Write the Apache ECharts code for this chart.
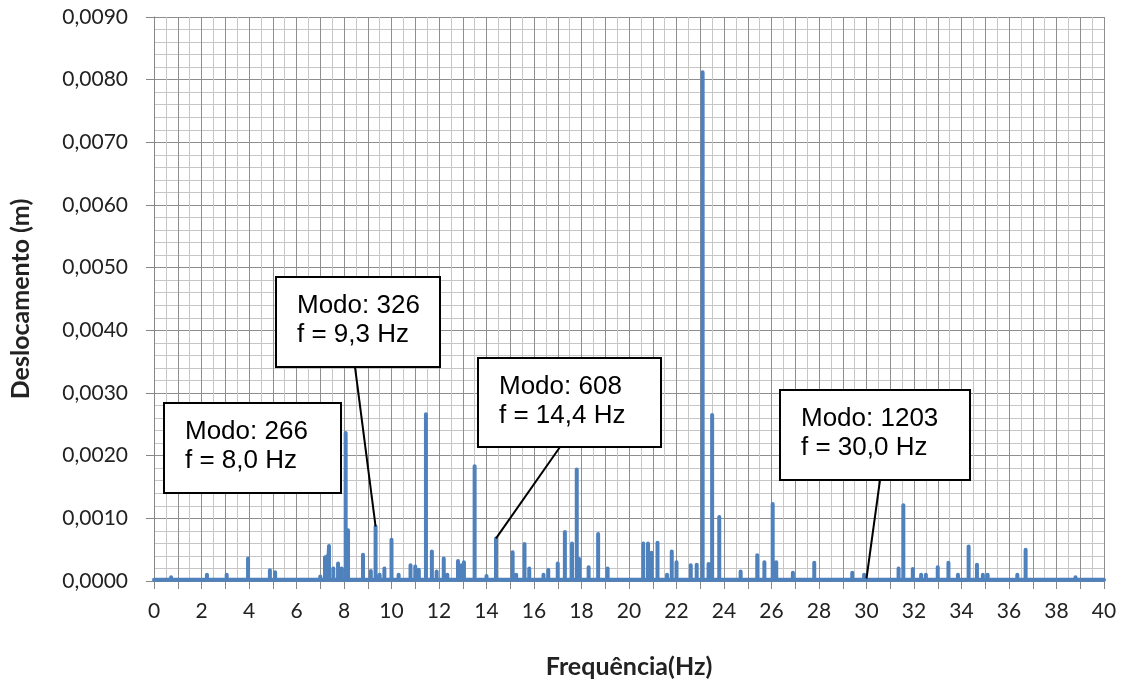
<!DOCTYPE html>
<html>
<head>
<meta charset="utf-8">
<script src="https://cdn.jsdelivr.net/npm/echarts/dist/echarts.min.js"></script>
<style>
  html, body { margin: 0; padding: 0; background: #fff; }
  #chart { width: 1124px; height: 684px; }
</style>
</head>
<body>
<div id="chart"></div>
<script>
// Spectrum peaks: frequency (Hz) and displacement amplitude (m)
const peakFreq = [
  0.72, 1.65, 2.0, 2.23, 3.06, 3.96, 4.25, 4.88, 5.1, 6.0,
  7.0, 7.2, 7.3, 7.37, 7.55, 7.75, 7.9, 8.07, 8.17, 8.4,
  8.8, 9.13, 9.33, 9.5, 9.7, 10.0, 10.3, 10.5, 10.8, 11.0,
  11.15, 11.45, 11.7, 11.9, 12.2, 12.35, 12.8, 12.95, 13.05, 13.5,
  14.0, 14.4, 15.1, 15.25, 15.6, 15.8, 16.4, 16.6, 17.0, 17.3,
  17.6, 17.8, 17.9, 18.3, 18.7, 19.1, 20.15, 20.6, 20.8, 20.95,
  21.2, 21.6, 21.8, 22.0, 22.6, 22.85, 23.1, 23.35, 23.5, 23.8,
  24.7, 25.4, 25.7, 26.05, 26.2, 26.9, 27.8, 29.4, 29.9, 30.7,
  31.35, 31.55, 31.95, 32.3, 32.5, 33.0, 33.45, 33.85, 34.3, 34.65,
  34.9, 35.1, 35.9, 36.35, 36.7, 38.8, 39.8
];
const peakDisp = [
  0.00006, 0.00005, 0.00005, 0.00010, 0.00010, 0.00036, 0.00004, 0.00017, 0.00014, 0.00005,
  0.00007, 0.00038, 0.00040, 0.00056, 0.00020, 0.00028, 0.00020, 0.00236, 0.00081, 0.00005,
  0.00042, 0.00016, 0.00087, 0.00010, 0.00020, 0.00066, 0.00010, 0.00005, 0.00025, 0.00023,
  0.00018, 0.00266, 0.00047, 0.00015, 0.00036, 0.00010, 0.00032, 0.00025, 0.00030, 0.00183,
  0.00008, 0.00068, 0.00046, 0.00010, 0.00059, 0.00020, 0.00010, 0.00018, 0.00028, 0.00078,
  0.00060, 0.00178, 0.00035, 0.00022, 0.00075, 0.00020, 0.00005, 0.00060, 0.00060, 0.00045,
  0.00061, 0.00010, 0.00047, 0.00030, 0.00025, 0.00026, 0.00812, 0.00027, 0.00265, 0.00102,
  0.00015, 0.00041, 0.00030, 0.00123, 0.00030, 0.00013, 0.00029, 0.00013, 0.00010, 0.00005,
  0.00020, 0.00121, 0.00019, 0.00010, 0.00010, 0.00022, 0.00029, 0.00010, 0.00055, 0.00026,
  0.00010, 0.00010, 0.00005, 0.00010, 0.00050, 0.00006, 0.00004
];
// Noise floor of the spectrum (m)
const floorDisp = 0.00002;

// Frequency range (Hz)
const freqMin = 0;
const freqMax = 40;

// Annotated modes
const modeLabels = ['Modo: 266', 'Modo: 326', 'Modo: 608', 'Modo: 1203'];
const modeFreqLabels = ['f = 8,0 Hz', 'f = 9,3 Hz', 'f = 14,4 Hz', 'f = 30,0 Hz'];
const modeFreq = [8.0, 9.33, 14.4, 30.0];
const modeDisp = [0.00236, 0.00087, 0.00068, 0.00004];

// Build the spectrum trace: floor, spike up to each peak, back to floor
const trace = [[freqMin, floorDisp]];
peakFreq.forEach((f, i) => {
  trace.push([f, floorDisp], [f, peakDisp[i]], [f, floorDisp]);
});
trace.push([freqMax, floorDisp]);

const chart = echarts.init(document.getElementById('chart'), null, { renderer: 'canvas' });

const tickFont = 'Lato, "Open Sans", sans-serif';
const majorGrid = '#8e8e8e';
const minorGrid = '#c6c6c6';

chart.setOption({
  animation: false,
  backgroundColor: '#ffffff',
  grid: { left: 154, right: 20, top: 17, bottom: 103 },
  xAxis: {
    type: 'value',
    min: freqMin,
    max: freqMax,
    interval: 1,
    name: 'Frequência(Hz)',
    nameLocation: 'middle',
    nameGap: 73,
    nameTextStyle: { fontFamily: tickFont, fontWeight: 'bold', fontSize: 25, color: '#222' },
    axisLine: { show: true, lineStyle: { color: '#868686', width: 1 } },
    axisTick: { show: true, length: 8, lineStyle: { color: '#868686' } },
    axisLabel: {
      margin: 20,
      fontFamily: tickFont,
      fontSize: 21,
      color: '#222',
      formatter: v => (Math.round(v) % 2 === 0 ? String(Math.round(v)) : '')
    },
    splitLine: { show: true, lineStyle: { color: majorGrid, width: 1 } },
    minorTick: { show: false, splitNumber: 2 },
    minorSplitLine: { show: true, lineStyle: { color: minorGrid, width: 1 } }
  },
  yAxis: {
    type: 'value',
    min: 0,
    max: 0.009,
    interval: 0.001,
    name: 'Deslocamento (m)',
    nameLocation: 'middle',
    nameGap: 121,
    nameTextStyle: { fontFamily: tickFont, fontWeight: 'bold', fontSize: 25, color: '#222' },
    axisLine: { show: true, lineStyle: { color: '#868686', width: 1 } },
    axisTick: { show: true, length: 8, lineStyle: { color: '#868686' } },
    axisLabel: {
      margin: 26,
      fontFamily: tickFont,
      fontSize: 21,
      color: '#222',
      formatter: v => v.toFixed(4).replace('.', ',')
    },
    splitLine: { show: true, lineStyle: { color: majorGrid, width: 1 } },
    minorTick: { show: false, splitNumber: 5 },
    minorSplitLine: { show: true, lineStyle: { color: minorGrid, width: 1 } }
  },
  series: [{
    type: 'line',
    data: trace,
    showSymbol: false,
    symbol: 'none',
    lineStyle: { color: '#4F81BD', width: 4, join: 'round', cap: 'round' },
    z: 5
  }]
});

// Callout boxes with leader lines pointing at the annotated peaks
const boxes = [
  { x: 164, y: 403, w: 177, h: 90, lead: null },
  { x: 276, y: 277, w: 164, h: 90, lead: [355, 367] },
  { x: 478, y: 358, w: 183, h: 89, lead: [560, 447] },
  { x: 780, y: 390, w: 190, h: 90, lead: [880, 480] }
];

const graphics = [];
boxes.forEach((b, i) => {
  if (b.lead) {
    const p = chart.convertToPixel({ gridIndex: 0 }, [modeFreq[i], modeDisp[i]]);
    graphics.push({
      type: 'line',
      z: 20,
      shape: { x1: b.lead[0], y1: b.lead[1], x2: p[0], y2: p[1] },
      style: { stroke: '#000', lineWidth: 2 }
    });
  }
  graphics.push({
    type: 'rect',
    z: 21,
    shape: { x: b.x, y: b.y, width: b.w, height: b.h },
    style: { fill: '#fff', stroke: '#000', lineWidth: 2 }
  });
  graphics.push({
    type: 'text',
    z: 22,
    x: b.x + 21,
    y: b.y + 29,
    style: {
      text: modeLabels[i],
      font: '26px "Liberation Sans", Arial, sans-serif',
      fill: '#000',
      verticalAlign: 'middle'
    }
  });
  graphics.push({
    type: 'text',
    z: 22,
    x: b.x + 21,
    y: b.y + 58,
    style: {
      text: modeFreqLabels[i],
      font: '26px "Liberation Sans", Arial, sans-serif',
      fill: '#000',
      verticalAlign: 'middle'
    }
  });
});

chart.setOption({ graphic: graphics });
</script>
</body>
</html>
